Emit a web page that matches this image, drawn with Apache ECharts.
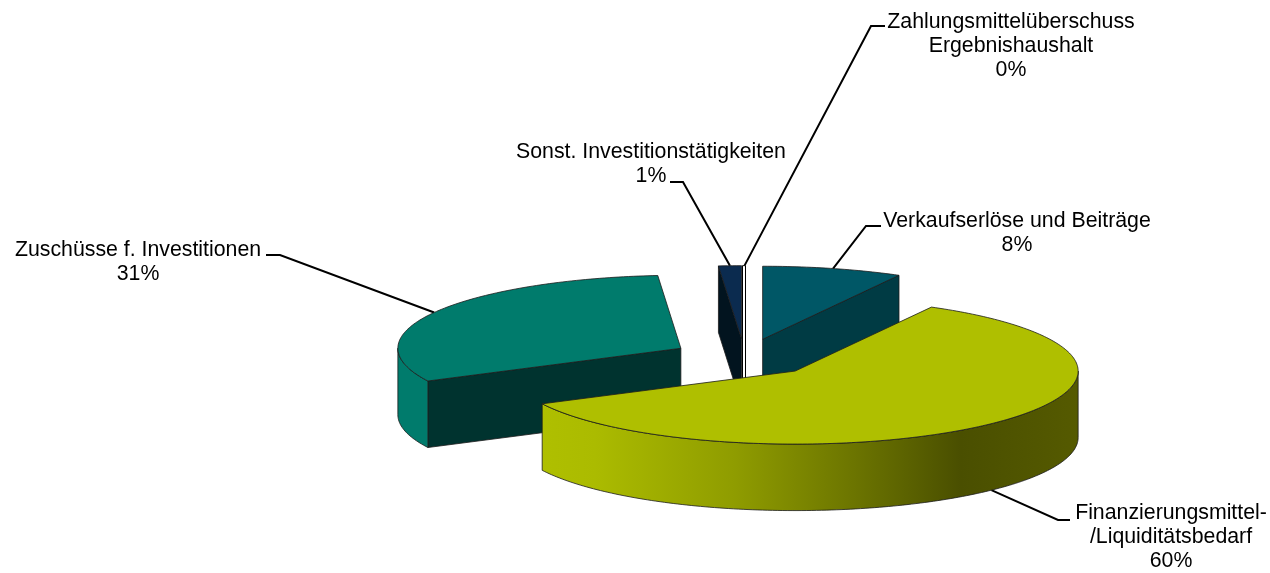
<!DOCTYPE html>
<html>
<head>
<meta charset="utf-8">
<title>Pie</title>
<style>
html,body{margin:0;padding:0;background:#fff;}
#main{width:1270px;height:573px;}
</style>
<script src="https://cdn.jsdelivr.net/npm/echarts@6/dist/echarts.min.js"></script>
</head>
<body>
<div id="main"></div>
<script>
// clockwise from 12 o'clock
var names = ['Verkaufserlöse und Beiträge', 'Finanzierungsmittel-\n/Liquiditätsbedarf', 'Zuschüsse f. Investitionen', 'Sonst. Investitionstätigkeiten', 'Zahlungsmittelüberschuss\nErgebnishaushalt'];
var values = [8.0, 59.6, 31.1, 1.3, 0];

// colours per slice
var topColors = ['#005766', '#AFBF00', '#007B6C', '#0B2B4F', '#FFFFFF'];
var cutColors = ['#003B44', '#AFBF00', '#00332F', '#02141F', '#FFFFFF'];
var wallColors = ['#003B44', null, '#007B6C', '#02141F', '#FFFFFF'];
// back slices first so the front ones cover them
var drawOrder = [4, 3, 0, 2, 1];

// layout of the fake 3d pie
var cx = 744.5, cy = 357.5, rx = 283, tilt = 0.258, depth = 66.5, explode = 73;
var labelPos = [[1017, 233.5], [1171, 537.5], [138, 262], [651, 164], [1011, 46]];
var elbows = [[[881, 226], [866, 226]], [[1070, 520], [1058, 520]], [[266, 255], [280, 255]], [[670, 182], [683, 182]], [[885, 26], [871, 26]]];

var total = 0;
for (var t = 0; t < values.length; t++) total += values[t];
var starts = [], ends = [];
var acc = 0;
for (var i = 0; i < values.length; i++) {
    starts.push(acc / total * 360);
    acc += values[i];
    ends.push(acc / total * 360);
}

function rad(d) { return d * Math.PI / 180; }

// centre of a slice after pulling it out of the pie
function sliceCenter(i) {
    var mid = rad((starts[i] + ends[i]) / 2);
    return [cx + explode * Math.sin(mid), cy - explode * tilt * Math.cos(mid)];
}
function rim(c, deg, down) {
    return [c[0] + rx * Math.sin(rad(deg)), c[1] - rx * tilt * Math.cos(rad(deg)) + (down || 0)];
}
function arcPoints(c, a0, a1, down) {
    var pts = [];
    var n = Math.max(2, Math.ceil(Math.abs(a1 - a0)));
    for (var k = 0; k <= n; k++) pts.push(rim(c, a0 + (a1 - a0) * k / n, down));
    return pts;
}
function cutFace(c, deg) {
    var r = rim(c, deg);
    return [c, r, [r[0], r[1] + depth], [c[0], c[1] + depth]];
}

function poly(points, fill) {
    return {type: 'polygon', shape: {points: points}, style: {fill: fill, stroke: '#1c1c1c', lineWidth: 0.8, lineJoin: 'round'}};
}

function renderSlice(params, api) {
    var i = api.value(0);
    var c = sliceCenter(i);
    var a0 = starts[i], a1 = ends[i];
    var children = [];
    // a 0% slice still shows as a thin white stripe
    if (a1 - a0 == 0) {
        var top = rim(c, a0);
        return {type: 'polygon', shape: {points: [[top[0] - 2, top[1]], [top[0] + 1, top[1]], [top[0] + 1, c[1] + depth], [top[0] - 2, c[1] + depth]]},
            style: {fill: topColors[i], stroke: '#000', lineWidth: 1}};
    }
    // cut faces, only those turned to the viewer
    if (Math.cos(rad(a0 - 90)) < 0) children.push(poly(cutFace(c, a0), cutColors[i]));
    if (Math.cos(rad(a1 + 90)) < 0) children.push(poly(cutFace(c, a1), cutColors[i]));
    // outer wall is the part of the rim between 90 and 270 degrees
    var w0 = Math.max(a0, 90), w1 = Math.min(a1, 270);
    if (w1 > w0) {
        var wall = arcPoints(c, w0, w1, 0).concat(arcPoints(c, w1, w0, depth));
        var fill = wallColors[i];
        if (!fill) {
            fill = new echarts.graphic.LinearGradient(0, 0, 1, 0, [
                {offset: 0, color: '#AFBF00'},
                {offset: 0.1, color: '#ABBB00'},
                {offset: 0.36, color: '#8F9C00'},
                {offset: 0.58, color: '#6C7500'},
                {offset: 0.78, color: '#4A4F00'},
                {offset: 1, color: '#555A00'}
            ]);
        }
        children.push(poly(wall, fill));
    }
    children.push(poly([c].concat(arcPoints(c, a0, a1, 0)), topColors[i]));
    return {type: 'group', children: children};
}

function renderLabel(params, api) {
    var i = api.value(0);
    var c = sliceCenter(i);
    var mid = (starts[i] + ends[i]) / 2;
    // front slices take the line from the bottom of the wall
    var end = rim(c, mid, Math.cos(rad(mid)) < 0 ? depth : 0);
    return {type: 'group', children: [
        {type: 'polyline', shape: {points: elbows[i].concat([end])}, style: {fill: null, stroke: '#000', lineWidth: 2}},
        {type: 'text', x: labelPos[i][0], y: labelPos[i][1], style: {
            text: names[i] + '\n' + Math.round(values[i] / total * 100) + '%',
            fontFamily: '"Liberation Sans", Arial, sans-serif',
            fontSize: 21.3,
            lineHeight: 24,
            fill: '#000',
            align: 'center',
            verticalAlign: 'middle'
        }}
    ]};
}

var myChart = echarts.init(document.getElementById('main'));
var option = {
    animation: false,
    backgroundColor: '#fff',
    series: [
        {type: 'custom', coordinateSystem: 'none', silent: true, renderItem: renderLabel, data: drawOrder.map(function (d) { return [d]; }), z: 1},
        {type: 'custom', coordinateSystem: 'none', silent: true, renderItem: renderSlice, data: drawOrder.map(function (d) { return [d]; }), z: 2}
    ]
};
myChart.setOption(option);
</script>
</body>
</html>
